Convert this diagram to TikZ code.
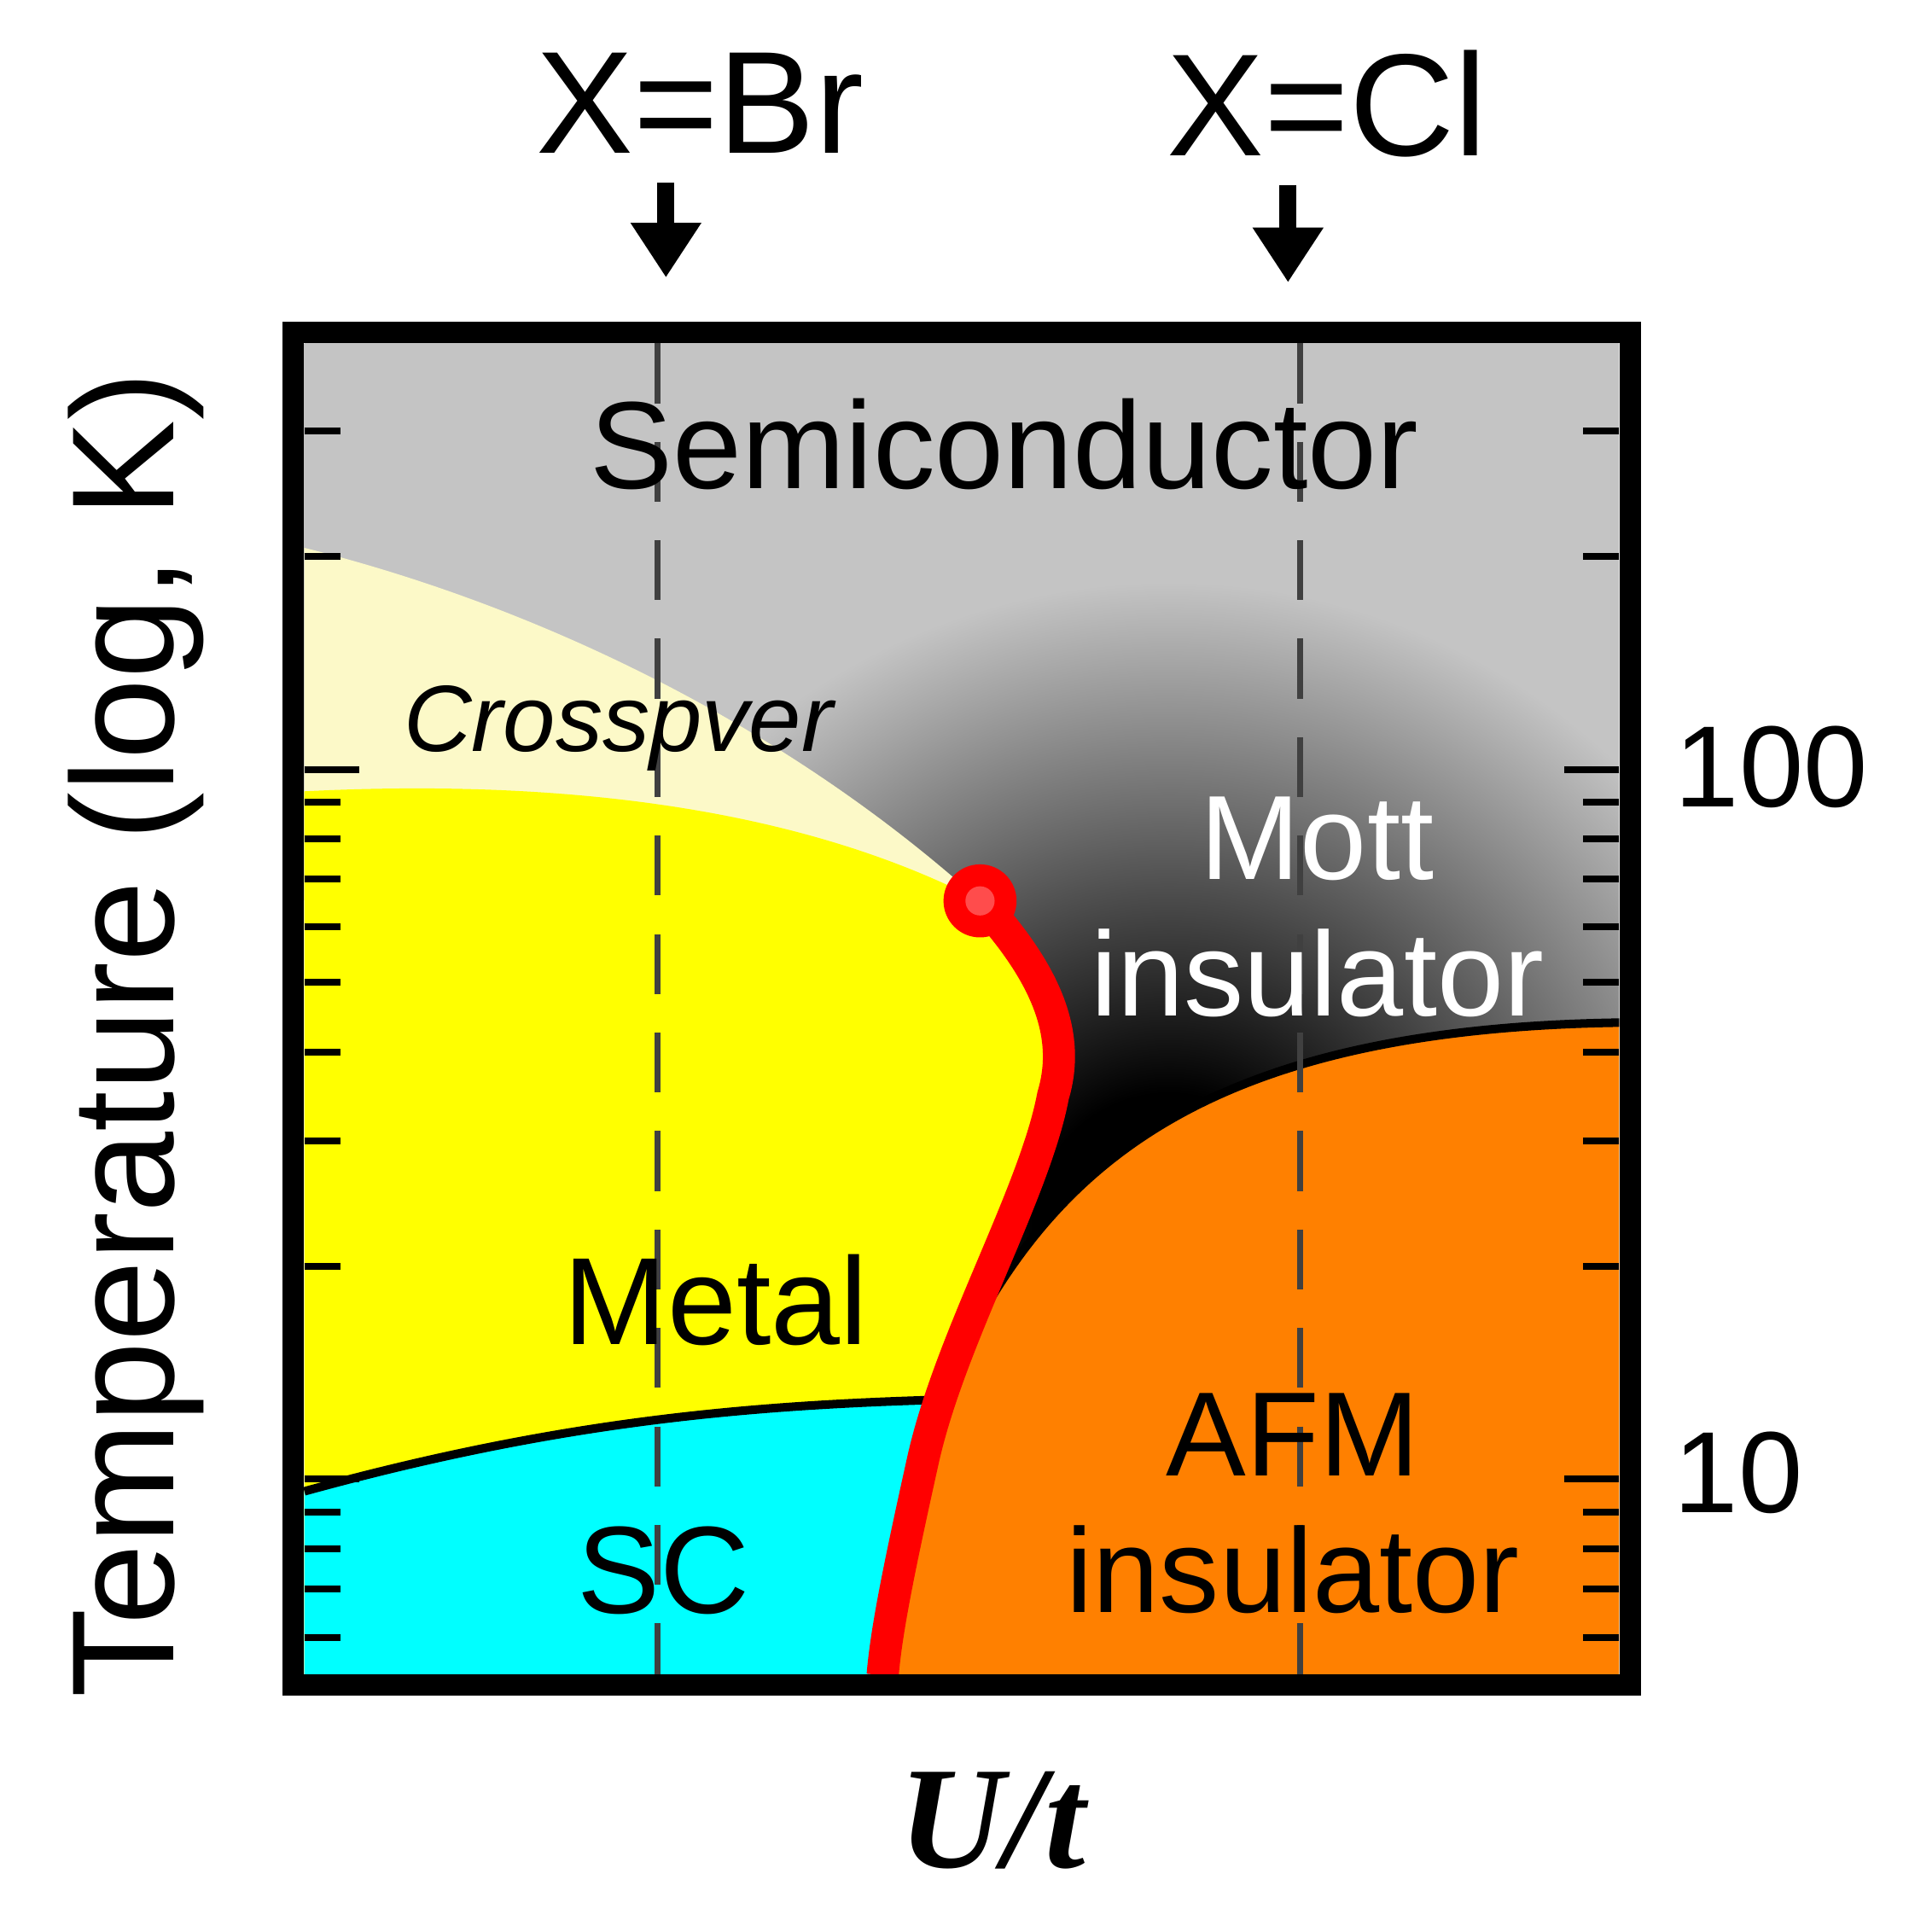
\documentclass[tikz,border=0pt]{standalone}
\usepackage{fontspec}
\setmainfont{Liberation Sans}
\newfontfamily\serifbi{Liberation Serif}
\usetikzlibrary{arrows.meta}
\definecolor{bgg}{HTML}{C4C4C4}
\definecolor{paley}{HTML}{FCF9C8}
\definecolor{orng}{HTML}{FF8000}
\definecolor{yel}{HTML}{FFFF00}
\definecolor{cyn}{HTML}{00FFFF}
\pgfdeclareradialshading{mott}{\pgfpoint{0bp}{0bp}}{color(0bp)=(black); color(2bp)=(black); color(9.5bp)=(bgg); color(50bp)=(bgg)}
\begin{document}
\begin{tikzpicture}[x=0.01cm,y=-0.01cm,
  lbl/.style={inner sep=0pt,align=center,font=\fontsize{29}{33}\selectfont},
  tick/.style={line width=1.6pt},
  vdash/.style={draw=black!75,line width=1.5pt,dash pattern=on 14pt off 9pt}]
\useasboundingbox (0,0) rectangle (1568,1587);
\def\redpath{(805,740) .. controls (860,800) and (880,850) .. (865,900) .. controls (850,980) and (780,1100) .. (758,1200) .. controls (738,1290) and (728,1340) .. (725,1376)}
\fill[bgg] (250,282) rectangle (1330,1376);
\begin{scope}
\clip (805,740) -- (870,880) -- (830,1000) -- (790,1110) -- (1330,840) -- (1330,282) -- (250,282) -- (250,740) -- cycle;
\shade[shading=mott] (960,1010) circle (1400);
\end{scope}
\fill[paley] (250,450) .. controls (450,500) and (650,600) .. (805,740) -- (805,760) -- (250,760) -- cycle;
\fill[yel] (250,650) .. controls (450,640) and (650,660) .. \redpath -- (250,1376) -- cycle;
\fill[cyn] (250,1225) .. controls (450,1170) and (600,1155) .. (765,1150) -- (725,1376) -- (250,1376) -- cycle;
\fill[orng] (790,1110) .. controls (870,950) and (1000,845) .. (1330,840) -- (1330,1376) -- (720,1376) -- (745,1240) -- cycle;
\draw[line width=2pt] (250,1225) .. controls (450,1170) and (600,1155) .. (765,1150);
\draw[line width=2pt] (790,1110) .. controls (870,950) and (1000,845) .. (1330,840);
\draw[vdash] (540,282) -- (540,1376);
\draw[vdash] (1068,282) -- (1068,1376);
\draw[red,line width=7.5pt] \redpath;
\fill[red] (805,740) circle (30);
\fill[red!70!white] (805,740) circle (12);
\foreach \y/\l in {354/30,457/30,632/45,659/30,689/30,722/30,761/30,807/30,864/30,937/30,1040/30,1215/45,1242/30,1272/30,1305/30,1345/30}{
  \draw[tick] (250,\y) -- ++(\l,0);
  \draw[tick] (1330,\y) -- ++(-\l,0);
}
\draw[line width=5pt] (241,273) rectangle (1339,1384);
\node[lbl] (semi) at (825,365) {Semiconductor};
\node[lbl,font=\fontsize{22}{26}\selectfont\itshape] (cross) at (508,598) {Crosspver};
\node[lbl,text=white,font=\fontsize{28}{32}\selectfont] (mott) at (1082,745) {Mott\\insulator};
\node[lbl] (metal) at (588,1068) {Metal};
\node[lbl] (sc) at (545,1290) {SC};
\node[lbl,font=\fontsize{28}{32}\selectfont] (afm) at (1062,1235) {AFM\\insulator};
\node[lbl,font=\fontsize{27}{30}\selectfont] (t100) at (1455,630) {100};
\node[lbl,font=\fontsize{27}{30}\selectfont] (t10) at (1428,1210) {10};
\node[lbl,font=\fontsize{34}{38}\selectfont,rotate=90] (ylab) at (112,850) {Temperature (log, K)};
\node[lbl,font=\fontsize{34}{38}\serifbi\bfseries\itshape] (ut) at (815,1495) {U/t};
\node[lbl,font=\fontsize{34}{38}\selectfont] (br) at (575,85) {X=Br};
\node[lbl,font=\fontsize{34}{38}\selectfont] (cl) at (1090,85) {X=Cl};
\coordinate (a1) at (547,150); \coordinate (b1) at (547,228);
\coordinate (a2) at (1058,152); \coordinate (b2) at (1058,232);
\draw[line width=4pt,-{Triangle[length=0.45cm,width=0.55cm]}] (a1) -- (b1);
\draw[line width=4pt,-{Triangle[length=0.45cm,width=0.55cm]}] (a2) -- (b2);
\end{tikzpicture}
\end{document}
